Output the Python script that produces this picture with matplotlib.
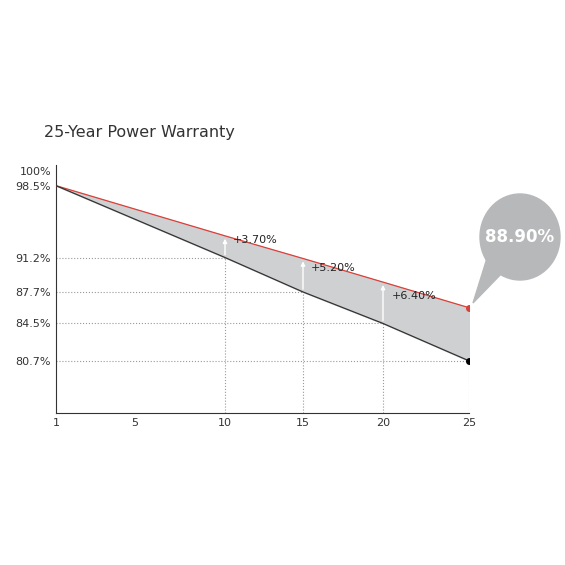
import numpy as np
import matplotlib.pyplot as plt
from matplotlib.patches import Ellipse, Polygon

years = [1, 10, 15, 20, 25]
standard = [98.5, 91.2, 87.7, 84.5, 80.7]
warranty = [98.5, 93.4, 91.1, 88.7, 86.1]
gains = ["+3.70%", "+5.20%", "+6.40%"]
yticks = [100, 98.5, 91.2, 87.7, 84.5, 80.7]
ylabels = ["100%", "98.5%", "91.2%", "87.7%", "84.5%", "80.7%"]
xticks = [1, 5, 10, 15, 20, 25]
# the original axis is not evenly spaced; pixel offsets of each tick
xpix = [0, 79, 169, 247, 327, 413]

fig = plt.figure(figsize=(5.65, 5.65), dpi=100)
ax = fig.add_axes([56 / 565, 152 / 565, 413 / 565, 248 / 565])
fwd = lambda v: np.interp(v, xticks, xpix, left=-1e3, right=1e3)
inv = lambda p: np.interp(p, xpix, xticks)
ax.set_xscale("function", functions=(fwd, inv))
ax.set_xlim(1, 25)
ax.set_ylim(75.4, 100.6)

ax.fill_between(years, standard, warranty, color="#cfd0d2", zorder=1)
ax.plot(years, warranty, color="#d9403a", lw=0.9, zorder=3)
ax.plot(years, standard, color="#333333", lw=0.9, zorder=3)
ax.plot(25, warranty[-1], "o", color="#d9403a", ms=4, zorder=4)
ax.plot(25, standard[-1], "o", color="black", ms=4, zorder=4)

for x, y in zip(years[1:], standard[1:]):
    ax.plot([1, x], [y, y], ls=":", color="#999999", lw=0.8, zorder=2)
    ax.plot([x, x], [75.4, y], ls=":", color="#999999", lw=0.8, zorder=2)

for x, lo, hi, g in zip(years[1:4], standard[1:4], warranty[1:4], gains):
    ax.annotate("", xy=(x, hi), xytext=(x, lo),
                arrowprops=dict(arrowstyle="-|>", color="white", lw=1, mutation_scale=6), zorder=5)
    ax.text(x + 0.5, (lo + hi) / 2 + 0.4, g, fontsize=8, color="#222222", zorder=6)

ax.set_xticks(xticks)
ax.set_xticklabels([str(t) for t in xticks])
ax.minorticks_off()
ax.set_yticks(yticks)
ax.set_yticklabels(ylabels)
ax.tick_params(length=0, labelsize=8, colors="#333333")
for s in ["top", "right"]:
    ax.spines[s].set_visible(False)
ax.spines["left"].set_color("#333333")
ax.spines["bottom"].set_color("#333333")

fig.text(44 / 565, 1 - 132 / 565, "25-Year Power Warranty", fontsize=11.5, color="#333333", va="center")

# speech bubble
fig.patches.append(Ellipse((520 / 565, 1 - 237 / 565), 80 / 565, 86 / 565,
                           transform=fig.transFigure, color="#b7b8ba"))
fig.patches.append(Polygon([[488 / 565, 1 - 255 / 565], [505 / 565, 1 - 270 / 565],
                            [473 / 565, 1 - 303 / 565]], transform=fig.transFigure, color="#b7b8ba"))
fig.text(520 / 565, 1 - 237 / 565, "88.90%", color="white", fontsize=12, fontweight="bold",
         ha="center", va="center")

fig.savefig("out.png")
